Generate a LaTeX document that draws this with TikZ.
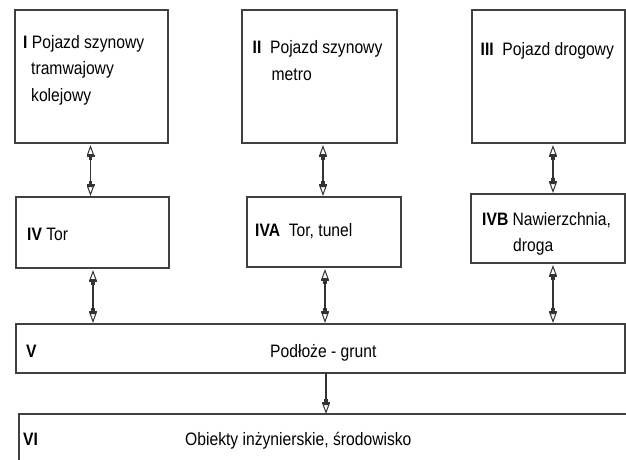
\documentclass[tikz,border=0pt]{standalone}
\usepackage{fontspec}
\setmainfont{Liberation Sans}[FakeStretch=0.87]
\usetikzlibrary{arrows.meta}
\tikzset{
  box/.style={draw=black!75,line width=1.3pt,inner sep=0pt,outer sep=0pt,anchor=north west},
  lbl/.style={anchor=base west,inner sep=0pt,font=\fontsize{18}{26}\selectfont},
  conn/.style={draw=black!80,line width=1.1pt},
  dbl/.style={conn,arrows={{Triangle[open,length=10pt,width=7pt,line width=1pt]Rectangle[open,length=2pt,width=8pt,line width=1pt]Rectangle[open,length=3pt,width=3.5pt,line width=1pt]}-{Rectangle[open,length=3pt,width=3.5pt,line width=1pt]Rectangle[open,length=2pt,width=8pt,line width=1pt]Triangle[open,length=10pt,width=7pt,line width=1pt]}},shorten <=2pt,shorten >=1pt},
  sgl/.style={conn,arrows={-{Rectangle[open,length=3pt,width=3.5pt,line width=1pt]Rectangle[open,length=2pt,width=8pt,line width=1pt]Triangle[open,length=10pt,width=7pt,line width=1pt]}}}
}
\begin{document}
\begin{tikzpicture}[x=1pt,y=-1pt]
\useasboundingbox (0,0) rectangle (626,459);
% boxes
\node[box,minimum width=153pt,minimum height=133pt] (I)   at (15,10) {};
\node[box,minimum width=155pt,minimum height=133pt] (II)  at (242,10) {};
\node[box,minimum width=153pt,minimum height=133pt] (III) at (472,10) {};
\node[box,minimum width=153pt,minimum height=71pt]  (IV)  at (16,197) {};
\node[box,minimum width=154pt,minimum height=70pt]  (IVA) at (247,197) {};
\node[box,minimum width=154pt,minimum height=69pt]  (IVB) at (471,194) {};
\node[box,minimum width=609pt,minimum height=49pt]  (V)   at (16,324) {};
\node[box,minimum width=650pt,minimum height=80pt]  (VI)  at (19,414) {};
% texts
\node[lbl] (t1a) at (23,48) {\textbf{I} Pojazd szynowy};
\node[lbl] (t1b) at (31,74.5) {tramwajowy};
\node[lbl] (t1c) at (31,101) {kolejowy};
\node[lbl] (t2a) at (252.5,53.3) {\textbf{II}\ \ Pojazd szynowy};
\node[lbl] (t2b) at (271.5,80) {metro};
\node[lbl] (t3a) at (480.5,55) {\textbf{III}\ \ Pojazd drogowy};
\node[lbl] (t4a) at (27,240) {\textbf{IV} Tor};
\node[lbl] (t5a) at (255,236.5) {\textbf{IVA}\ \ Tor, tunel};
\node[lbl] (t6a) at (482,225) {\textbf{IVB} Nawierzchnia,};
\node[lbl] (t6b) at (513,251) {droga};
\node[lbl] (t7a) at (26,357) {\textbf{V}};
\node[lbl] (t7b) at (270,357) {Podłoże - grunt};
\node[lbl] (t8a) at (23,445) {\textbf{VI}};
\node[lbl] (t8b) at (185,445) {Obiekty inżynierskie, środowisko};
% connector columns
\coordinate (c1) at (90.5,0);
\coordinate (c2) at (323,0);
\coordinate (c3) at (553,0);
\coordinate (c4) at (93,0);
\coordinate (c5) at (325,0);
\coordinate (c7) at (326,0);
% connectors
\draw[dbl] (I.south -| c1) -- (IV.north -| c1);
\draw[dbl] (II.south -| c2) -- (IVA.north -| c2);
\draw[dbl] (III.south -| c3) -- (IVB.north -| c3);
\draw[dbl] (IV.south -| c4) -- (V.north -| c4);
\draw[dbl] (IVA.south -| c5) -- (V.north -| c5);
\draw[dbl] (IVB.south -| c3) -- (V.north -| c3);
\draw[sgl] (V.south -| c7) -- (VI.north -| c7);
\end{tikzpicture}
\end{document}
